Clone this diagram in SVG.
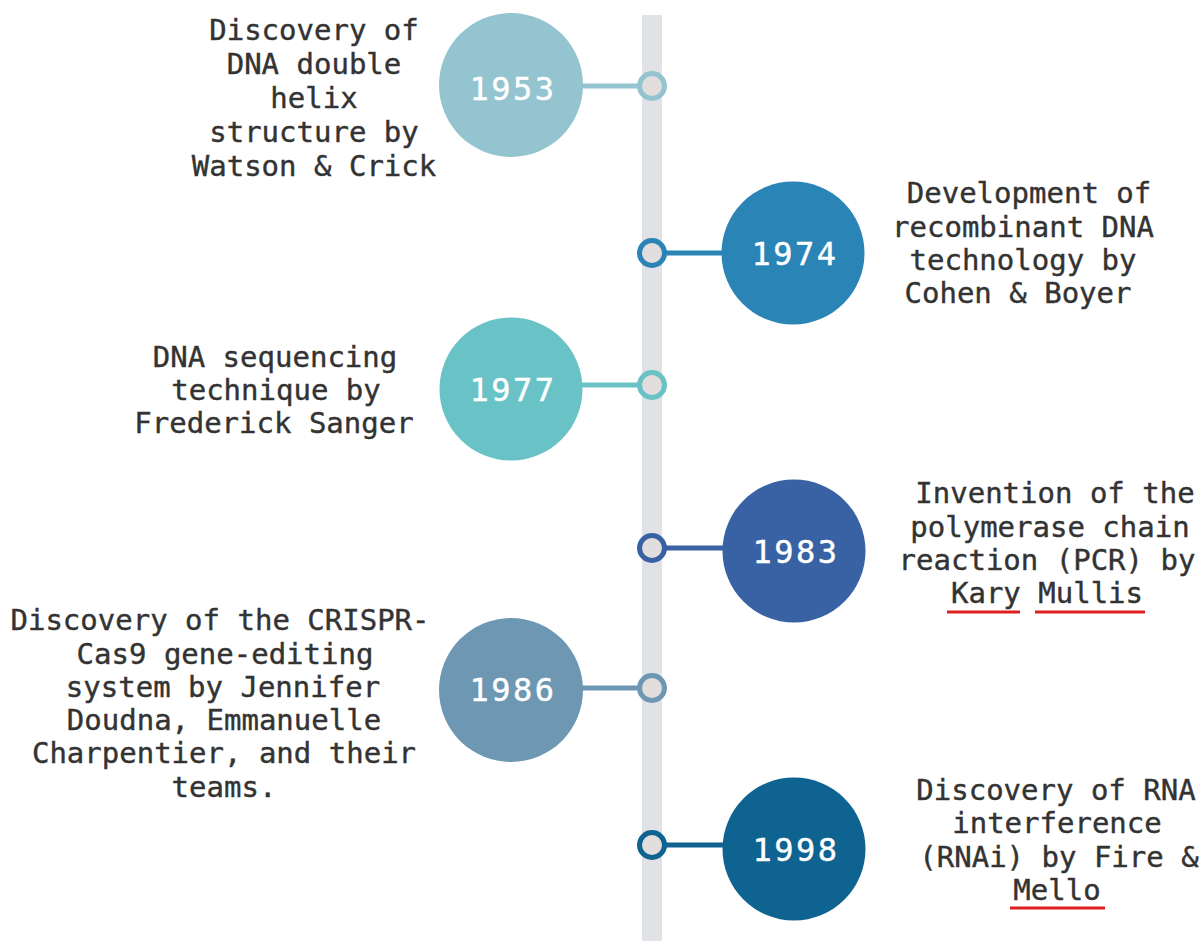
<svg xmlns="http://www.w3.org/2000/svg" width="1203" height="941" viewBox="0 0 1203 941">
<style>
.desc{font-family:"DejaVu Sans Mono","Liberation Mono",monospace;font-size:29px;fill:#333333;stroke:#333333;stroke-width:0.4px;text-anchor:middle}
.year{font-family:"DejaVu Sans Mono","Liberation Mono",monospace;font-size:32px;fill:#ffffff;stroke:#ffffff;stroke-width:0.4px;text-anchor:middle;letter-spacing:2.5px}
.ring{fill:#e2dede;stroke-width:5}
.conn{stroke-width:5;fill:none}
.ul{stroke:#e01e1e;stroke-width:3}
</style>
<rect x="0" y="0" width="1203" height="941" fill="#ffffff"/>
<rect id="timeline-bar" x="642" y="15" width="20" height="926" fill="#e0e2e6"/>
<g id="connectors">
  <line class="conn" x1="560" y1="86" x2="652" y2="86" stroke="#94c4cf"/>
  <line class="conn" x1="652" y1="253" x2="740" y2="253" stroke="#2b84b6"/>
  <line class="conn" x1="560" y1="385" x2="652" y2="385" stroke="#69c2c6"/>
  <line class="conn" x1="652" y1="548" x2="740" y2="548" stroke="#3862a4"/>
  <line class="conn" x1="560" y1="688" x2="652" y2="688" stroke="#6d97b3"/>
  <line class="conn" x1="652" y1="845" x2="740" y2="845" stroke="#0e6390"/>
</g>
<g id="node-1953">
  <circle cx="511" cy="85" r="72" fill="#94c4cf"/>
  <text class="year" x="513" y="100">1953</text>
  <circle class="ring" cx="652" cy="86" r="12.5" stroke="#94c4cf"/>
  <text class="desc" x="314" y="40">Discovery of</text>
  <text class="desc" x="314" y="74">DNA double</text>
  <text class="desc" x="314" y="108">helix</text>
  <text class="desc" x="314" y="142">structure by</text>
  <text class="desc" x="314" y="176">Watson &amp; Crick</text>
</g>
<g id="node-1974">
  <circle cx="793" cy="253" r="71.5" fill="#2b84b6"/>
  <text class="year" x="795" y="265">1974</text>
  <circle class="ring" cx="652" cy="253" r="12.5" stroke="#2b84b6"/>
  <text class="desc" x="1029" y="203">Development of</text>
  <text class="desc" x="1023" y="237">recombinant DNA</text>
  <text class="desc" x="1023" y="270">technology by</text>
  <text class="desc" x="1018" y="303">Cohen &amp; Boyer</text>
</g>
<g id="node-1977">
  <circle cx="511" cy="389" r="71.5" fill="#69c2c6"/>
  <text class="year" x="513" y="401">1977</text>
  <circle class="ring" cx="652" cy="385" r="12.5" stroke="#69c2c6"/>
  <text class="desc" x="275" y="367">DNA sequencing</text>
  <text class="desc" x="276" y="400">technique by</text>
  <text class="desc" x="274" y="433">Frederick Sanger</text>
</g>
<g id="node-1983">
  <circle cx="794" cy="551" r="71.5" fill="#3862a4"/>
  <text class="year" x="796" y="563">1983</text>
  <circle class="ring" cx="652" cy="548" r="12.5" stroke="#3862a4"/>
  <text class="desc" x="1055" y="503">Invention of the</text>
  <text class="desc" x="1050" y="537">polymerase chain</text>
  <text class="desc" x="1047" y="570">reaction (PCR) by</text>
  <text class="desc" x="1047" y="603">Kary Mullis</text>
  <line class="ul" x1="947" y1="612" x2="1020" y2="612"/>
  <line class="ul" x1="1035" y1="612" x2="1145" y2="612"/>
</g>
<g id="node-1986">
  <circle cx="511" cy="690" r="72" fill="#6d97b3"/>
  <text class="year" x="513" y="701">1986</text>
  <circle class="ring" cx="652" cy="688" r="12.5" stroke="#6d97b3"/>
  <text class="desc" x="220" y="630">Discovery of the CRISPR-</text>
  <text class="desc" x="225" y="664">Cas9 gene-editing</text>
  <text class="desc" x="223" y="697">system by Jennifer</text>
  <text class="desc" x="224" y="730">Doudna, Emmanuelle</text>
  <text class="desc" x="224" y="763">Charpentier, and their</text>
  <text class="desc" x="224" y="797">teams.</text>
</g>
<g id="node-1998">
  <circle cx="794" cy="849" r="71.5" fill="#0e6390"/>
  <text class="year" x="796" y="861">1998</text>
  <circle class="ring" cx="652" cy="845" r="12.5" stroke="#0e6390"/>
  <text class="desc" x="1056" y="800">Discovery of RNA</text>
  <text class="desc" x="1057" y="833">interference</text>
  <text class="desc" x="1059" y="867">(RNAi) by Fire &amp;</text>
  <text class="desc" x="1057" y="900">Mello</text>
  <line class="ul" x1="1010" y1="908" x2="1105" y2="908"/>
</g>
</svg>
